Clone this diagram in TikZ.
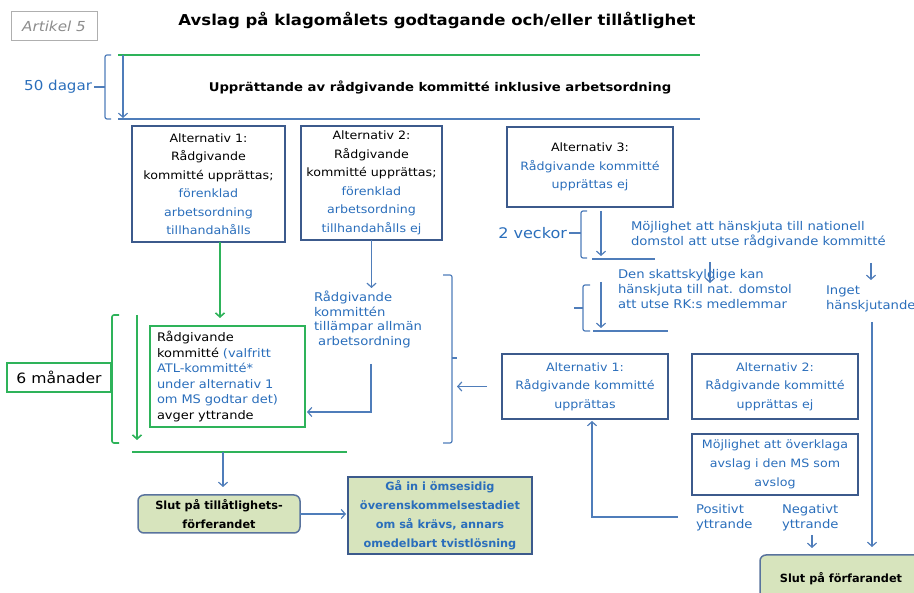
\documentclass[tikz,border=0pt]{standalone}
\usepackage{fontspec}
\setmainfont{DejaVu Sans}[FakeStretch=1.1]
\newfontfamily\boxbold{DejaVu Sans}
\usetikzlibrary{arrows.meta}
\definecolor{boxcol}{HTML}{3C5A8C}
\definecolor{lineblue}{HTML}{4F7DBA}
\definecolor{textblue}{HTML}{2A6EBB}
\definecolor{grn}{HTML}{2EB35A}
\definecolor{paleg}{HTML}{D7E4BD}
\definecolor{artgray}{HTML}{8C8C8C}
\newcommand\fsz[2]{\fontsize{#1}{#2}\selectfont}
\begin{document}
\begin{tikzpicture}[x=1pt,y=-1pt,
  every node/.style={inner sep=0pt, outer sep=0pt},
  altbox/.style={draw=boxcol, line width=1.6pt, align=center, font=\fsz{11.5}{18.5}},
  endbox/.style={draw=boxcol!85, fill=paleg, line width=1.5pt, rounded corners=6pt, align=center, font=\boxbold\bfseries\fsz{11.3}{19}},
  note/.style={text=textblue, align=left, anchor=north west, font=\fsz{12}{15}},
  bline/.style={draw=lineblue, line width=1.2pt},
  barrow/.style={bline, -{Straight Barb[length=4pt,width=9pt]}},
  gline/.style={draw=grn, line width=1.6pt},
  garrow/.style={gline, -{Straight Barb[length=4pt,width=9pt]}},
  brace/.style={bline, rounded corners=2pt},
  gbrace/.style={gline, rounded corners=2pt}]
\useasboundingbox (0,0) rectangle (914,593);
\clip (0,0) rectangle (914,593);

% heading
\node[draw=artgray!70, line width=1pt, minimum width=86pt, minimum height=29pt,
      text=artgray, font=\fsz{13.8}{15}\itshape] (art) at (54,26) {Artikel 5};
\node[font=\fsz{15}{17}\bfseries] (title) at (437,20)
  {Avslag på klagomålets godtagande och/eller tillåtlighet};

% 50-day band
\coordinate (bandTL) at (118,55); \coordinate (bandTR) at (700,55);
\coordinate (bandBL) at (118,119); \coordinate (bandBR) at (700,119);
\draw[gline] (bandTL) -- (bandTR);
\draw[bline] (bandBL) -- (bandBR);
\node[font=\fsz{12}{14}\bfseries] (upp) at (440,87)
  {Upprättande av rådgivande kommitté inklusive arbetsordning};
\coordinate (d50a) at (123,55); \coordinate (d50b) at (123,118);
\draw[barrow] (d50a) -- (d50b);
\draw[brace] (111,55) -- (105,55) -- (105,119) -- (111,119);
\coordinate (d50t) at (105,87);
\node[text=textblue, font=\fsz{13.7}{16}, anchor=east] (d50) at (92,87) {50 dagar};
\draw[bline] (d50t) -- ([xshift=2pt]d50.east);

% three alternatives
\node[altbox, minimum width=153pt, minimum height=116pt] (alt1) at (208.5,184)
  {Alternativ 1:\\Rådgivande\\kommitté upprättas;\\\textcolor{textblue}{förenklad}\\
   \textcolor{textblue}{arbetsordning}\\\textcolor{textblue}{tillhandahålls}};
\node[altbox, minimum width=141pt, minimum height=114pt] (alt2) at (371.5,183)
  {Alternativ 2:\\Rådgivande\\kommitté upprättas;\\\textcolor{textblue}{förenklad}\\
   \textcolor{textblue}{arbetsordning}\\\textcolor{textblue}{tillhandahålls ej}};
\node[altbox, minimum width=166pt, minimum height=80pt] (alt3) at (590,167)
  {Alternativ 3:\\\textcolor{textblue}{Rådgivande kommitté}\\\textcolor{textblue}{upprättas ej}};

% six-month phase
\node[draw=grn, line width=1.6pt, minimum width=155pt, minimum height=101pt,
      text width=141pt, inner xsep=7pt, align=left, font=\fsz{11.8}{15.5}] (gbox) at (227.5,376.5)
  {Rådgivande\\kommitté \textcolor{textblue}{(valfritt}\\\textcolor{textblue}{ATL-kommitté*}\\
   \textcolor{textblue}{under alternativ 1}\\\textcolor{textblue}{om MS godtar det)}\\avger yttrande};
\draw[garrow, shorten >=8pt] ([xshift=11.5pt]alt1.south) -- ([xshift=11.5pt]alt1.south |- gbox.north);
\node[draw=grn, line width=1.6pt, minimum width=104pt, minimum height=29pt,
      font=\fsz{14.2}{16}] (m6) at (59,377.5) {6 månader};
\draw[gbrace] (119,315) -- (112,315) -- (112,443) -- (119,443);
\coordinate (m6t) at (112,378);
\draw[gline] (m6t) -- (m6.east);
\coordinate (m6a) at (137,315); \coordinate (m6b) at (137,440);
\draw[garrow] (m6a) -- (m6b);
\coordinate (gl1) at (132,452); \coordinate (gl2) at (347,452);
\draw[gline] (gl1) -- (gl2);

% alternative 2 path
\node[note, font=\fsz{12}{14.5}] (rk) at (314,291)
  {Rådgivande\\kommittén\\tillämpar allmän\\\ arbetsordning};
\draw[barrow, shorten >=3pt] (alt2.south) -- (alt2.south |- rk.north);
\coordinate (rkout) at (371,364); \coordinate (gin) at (307,412);
\draw[barrow] (rkout) |- (gin);
\draw[brace] (443,275) -- (452,275) -- (452,443) -- (443,443);
\coordinate (brk) at (457,358);
\draw[bline] (452,358) -- (brk) ++(3,0);

% alternative 3 path
\node[text=textblue, font=\fsz{14.6}{16}, anchor=east] (v2) at (567,233) {2 veckor};
\draw[brace] (587,211) -- (581,211) -- (581,258) -- (587,258);
\coordinate (v2t) at (581,233);
\draw[bline] (v2t) -- ([xshift=2pt]v2.east);
\coordinate (v2a) at (601,211); \coordinate (v2b) at (601,256);
\draw[barrow] (v2a) -- (v2b);
\coordinate (v2l1) at (592,259); \coordinate (v2l2) at (655,259);
\draw[bline] (v2l1) -- (v2l2);
\node[note] (moj) at (631,221)
  {Möjlighet att hänskjuta till nationell\\domstol att utse rådgivande kommitté};
\node[note] (skatt) at (618,269)
  {Den skattskyldige kan\\hänskjuta till nat. domstol\\att utse RK:s medlemmar};
\node[note] (inget) at (826,286) {Inget\\hänskjutande};
\draw[barrow] (710,262) -- (710,283);
\draw[barrow] (871,263) -- (871,280);
\draw[brace] (590,285) -- (583,285) -- (583,331) -- (590,331);
\coordinate (sk1) at (583,308); \coordinate (sk2) at (574,308);
\draw[bline] (sk1) -- (sk2);
\coordinate (ska) at (601,282); \coordinate (skb) at (601,328);
\draw[barrow] (ska) -- (skb);
\coordinate (skl1) at (593,331); \coordinate (skl2) at (668,331);
\draw[bline] (skl1) -- (skl2);

% national court outcome
\node[altbox, text=textblue, minimum width=166pt, minimum height=65pt] (ralt1) at (585,386.5)
  {Alternativ 1:\\Rådgivande kommitté\\upprättas};
\node[altbox, text=textblue, minimum width=166pt, minimum height=65pt] (ralt2) at (775,386.5)
  {Alternativ 2:\\Rådgivande kommitté\\upprättas ej};
\node[altbox, text=textblue, minimum width=166pt, minimum height=61pt, font=\fsz{11.5}{19}] (over) at (775,464.5)
  {Möjlighet att överklaga\\avslag i den MS som\\avslog};
\draw[barrow, shorten <=15pt] (ralt1.west) -- (ralt1.west -| brk);
\node[note] (pos) at (696,504) {Positivt\\yttrande};
\node[note] (neg) at (782,504) {Negativt\\yttrande};
\coordinate (pL) at (678,517);
\draw[barrow, shorten >=2pt] (pL) -| ([xshift=7pt]ralt1.south);
\draw[barrow] (812,535) -- (812,548);
\node[endbox, minimum width=162pt, minimum height=47pt] (end) at (841,578.5) {Slut på förfarandet};
\coordinate (ing) at (872,322);
\draw[barrow, shorten >=8pt] (ing) -- (ing |- end.north);

% end of admissibility phase
\node[endbox, minimum width=162pt, minimum height=38pt] (slut1) at (219,514)
  {Slut på tillåtlighets-\\förferandet};
\node[draw=boxcol, fill=paleg, line width=1.5pt, minimum width=184pt, minimum height=77pt,
      align=center, text=textblue, font=\boxbold\bfseries\fsz{11.3}{19}] (gaa) at (440,515.5)
  {Gå in i ömsesidig\\överenskommelsestadiet\\om så krävs, annars\\omedelbart tvistlösning};
\coordinate (gd) at (223,452);
\draw[barrow, shorten >=8pt] (gd) -- (gd |- slut1.north);
\draw[barrow, shorten >=2pt] (slut1.east) -- (slut1.east -| gaa.west);
\end{tikzpicture}
\end{document}
